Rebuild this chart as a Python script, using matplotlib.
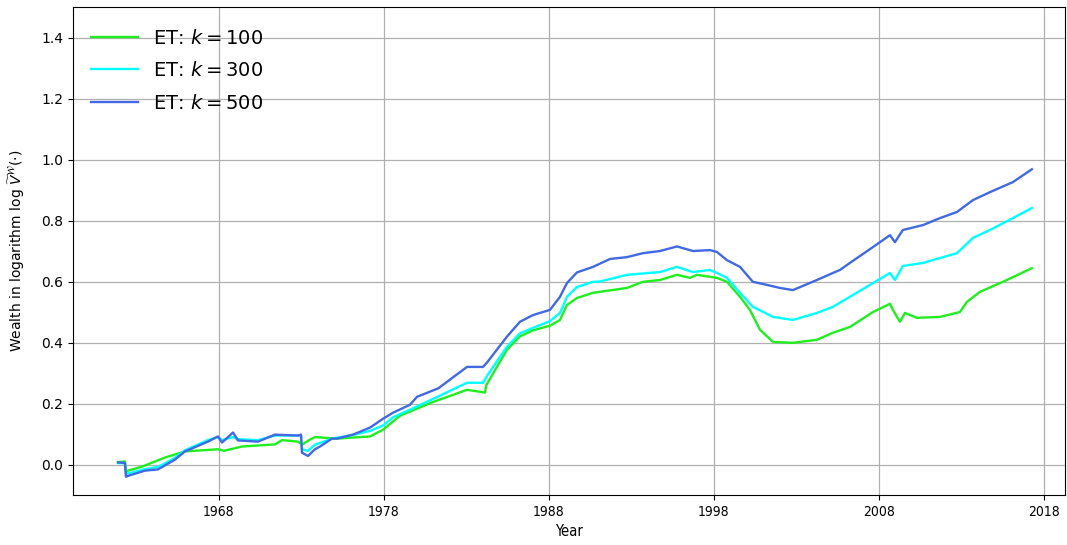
import matplotlib
matplotlib.use("Agg")
import matplotlib.pyplot as plt

# Log-wealth paths of the ET strategy for three window sizes k
years_k100 = [1961.88, 1962.30, 1962.36, 1963.33, 1964.73, 1965.94, 1967.94, 1968.30,
              1969.39, 1971.39, 1971.82, 1972.79, 1973.03, 1973.52, 1973.82, 1975.15,
              1977.15, 1977.94, 1978.97, 1980.97, 1983.03, 1984.12, 1984.20, 1985.45,
              1986.24, 1987.03, 1988.06, 1988.67, 1989.09, 1989.70, 1990.67, 1992.73,
              1993.70, 1994.73, 1995.76, 1996.55, 1996.97, 1998.18, 1998.79, 1999.58,
              2000.18, 2000.79, 2001.58, 2002.79, 2004.24, 2005.21, 2006.24, 2007.64,
              2008.67, 2008.85, 2009.27, 2009.58, 2010.30, 2011.70, 2012.91, 2013.33,
              2014.12, 2015.76, 2017.27]
wealth_k100 = [0.008, 0.010, -0.022, -0.007, 0.023, 0.043, 0.050, 0.045,
               0.059, 0.066, 0.080, 0.075, 0.065, 0.082, 0.090, 0.085,
               0.092, 0.114, 0.160, 0.205, 0.245, 0.236, 0.260, 0.376,
               0.420, 0.440, 0.455, 0.474, 0.523, 0.546, 0.563, 0.579,
               0.599, 0.605, 0.622, 0.612, 0.622, 0.612, 0.599, 0.550,
               0.507, 0.442, 0.402, 0.399, 0.409, 0.432, 0.451, 0.500,
               0.527, 0.507, 0.468, 0.497, 0.481, 0.484, 0.500, 0.533,
               0.566, 0.605, 0.644]

years_k300 = [1961.88, 1962.30, 1962.36, 1962.61, 1963.52, 1964.30, 1965.33, 1965.94,
              1967.33, 1967.94, 1968.18, 1968.85, 1969.15, 1970.36, 1971.39, 1972.79,
              1972.97, 1973.03, 1973.39, 1973.82, 1974.85, 1976.12, 1977.15, 1977.94,
              1978.55, 1979.58, 1980.97, 1983.03, 1984.00, 1984.24, 1985.45, 1986.24,
              1987.03, 1988.06, 1988.67, 1989.09, 1989.70, 1990.67, 1991.09, 1992.73,
              1994.73, 1995.76, 1996.73, 1997.76, 1998.18, 1998.79, 1999.58, 2000.36,
              2001.58, 2002.79, 2004.24, 2005.21, 2006.24, 2007.64, 2008.67, 2008.97,
              2009.45, 2010.67, 2011.70, 2012.73, 2013.70, 2014.73, 2016.12, 2017.27]
wealth_k300 = [0.005, 0.004, -0.030, -0.028, -0.015, -0.008, 0.022, 0.047,
               0.080, 0.090, 0.080, 0.090, 0.083, 0.080, 0.095, 0.095,
               0.096, 0.050, 0.045, 0.065, 0.085, 0.097, 0.110, 0.128,
               0.155, 0.180, 0.215, 0.268, 0.268, 0.290, 0.386, 0.430,
               0.448, 0.470, 0.497, 0.550, 0.582, 0.599, 0.600, 0.622,
               0.631, 0.648, 0.631, 0.638, 0.628, 0.612, 0.563, 0.517,
               0.484, 0.474, 0.497, 0.517, 0.550, 0.595, 0.628, 0.605,
               0.651, 0.661, 0.677, 0.693, 0.743, 0.769, 0.808, 0.841]

years_k500 = [1961.88, 1962.30, 1962.36, 1962.61, 1963.52, 1964.30, 1965.33, 1965.94,
              1967.33, 1967.94, 1968.18, 1968.85, 1969.15, 1970.36, 1971.39, 1972.79,
              1972.97, 1973.03, 1973.39, 1973.82, 1974.12, 1974.85, 1975.15, 1976.12,
              1977.15, 1977.94, 1978.55, 1979.58, 1980.00, 1981.30, 1983.03, 1984.00,
              1984.24, 1985.45, 1986.24, 1987.03, 1988.06, 1988.67, 1989.09, 1989.70,
              1990.67, 1991.70, 1992.73, 1993.70, 1994.73, 1995.76, 1996.73, 1997.76,
              1998.18, 1998.79, 1999.58, 2000.36, 2001.21, 2002.00, 2002.79, 2004.24,
              2005.21, 2005.64, 2006.24, 2007.64, 2008.67, 2008.97, 2009.45, 2010.67,
              2011.70, 2012.73, 2013.70, 2014.73, 2016.12, 2017.27]
wealth_k500 = [0.007, 0.005, -0.040, -0.035, -0.020, -0.016, 0.016, 0.043,
               0.075, 0.092, 0.072, 0.105, 0.079, 0.075, 0.098, 0.095,
               0.098, 0.039, 0.028, 0.050, 0.059, 0.085, 0.085, 0.098,
               0.121, 0.150, 0.170, 0.196, 0.222, 0.250, 0.320, 0.320,
               0.334, 0.419, 0.468, 0.490, 0.507, 0.550, 0.595, 0.630,
               0.648, 0.674, 0.680, 0.693, 0.700, 0.715, 0.700, 0.703,
               0.697, 0.670, 0.648, 0.599, 0.589, 0.579, 0.572, 0.605,
               0.628, 0.638, 0.661, 0.713, 0.752, 0.729, 0.769, 0.785,
               0.808, 0.828, 0.867, 0.893, 0.926, 0.968]

series_labels = [r'ET: $k=100$', r'ET: $k=300$', r'ET: $k=500$']
x_tick_years = [1968, 1978, 1988, 1998, 2008, 2018]

fig = plt.figure(figsize=(10.67, 5.45), dpi=100)
ax = fig.add_axes([0.0684, 0.0917, 0.9296, 0.8954])

ax.plot(years_k100, wealth_k100, color='#1fee1f', lw=1.7, label=series_labels[0])
ax.plot(years_k300, wealth_k300, color='#00ffff', lw=1.7, label=series_labels[1])
ax.plot(years_k500, wealth_k500, color='royalblue', lw=1.7, label=series_labels[2])

ax.set_xlim(1959.15, 2019.27)
ax.set_ylim(-0.1, 1.5)
ax.set_yticks([0.0, 0.2, 0.4, 0.6, 0.8, 1.0, 1.2, 1.4])
ax.set_xticks(x_tick_years)
narrow = ['Liberation Sans Narrow', 'DejaVu Sans']
ax.set_xticklabels([str(y) for y in x_tick_years], fontfamily=narrow,
                   fontstretch='condensed', fontsize=10)
ax.tick_params(axis='y', labelsize=10)
ax.grid(True, color='#b0b0b0', lw=0.9)

ax.set_xlabel('Year', fontfamily=narrow, fontstretch='condensed', fontsize=10.5)
ax.set_ylabel(r'Wealth in logarithm log $\widetilde{V}^{\mathcal{W}}(\cdot)$',
              fontsize=10, labelpad=10)

ax.legend(loc='upper left', frameon=False, fontsize=14, handlelength=2.4,
          labelspacing=0.7, borderaxespad=0.4, bbox_to_anchor=(0.0024, 0.9877))

fig.savefig('out.png', dpi=100)
